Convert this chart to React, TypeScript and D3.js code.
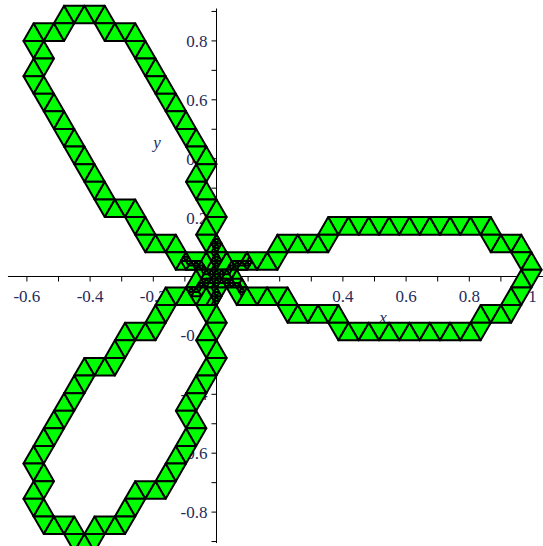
import React, { useMemo } from "react";
import * as d3 from "d3";

// Rose curve r = cos(3θ), written implicitly: (x²+y²)² = x³ − 3xy²
const petals = [3];
const roseLevel = (x: number, y: number) => {
  const r2 = x * x + y * y;
  return r2 * r2 - (x * x * x - 3 * x * y * y);
};

// Triangular mesh used to trace the curve (data units)
const meshTop = [0.9195];
const meshRowHeight = [0.0598];
const meshBase = [0.0643];
const meshRows = [31];
const meshColumns = [-14, 18];
const refineRadius = [0.11];
const refineDepth = [2];

// Axis ticks
const xMajor = [-0.6, -0.4, -0.2, 0.2, 0.4, 0.6, 0.8, 1];
const xMajorLabels = ["-0.6", "-0.4", "-0.2", "0.2", "0.4", "0.6", "0.8", "1"];
const xMinor = [-0.5, -0.3, -0.1, 0.1, 0.3, 0.5, 0.7, 0.9];
const yMajor = [-0.8, -0.6, -0.4, -0.2, 0.2, 0.4, 0.6, 0.8];
const yMajorLabels = ["-0.8", "-0.6", "-0.4", "-0.2", "0.2", "0.4", "0.6", "0.8"];
const yMinor = [-0.9, -0.7, -0.5, -0.3, -0.1, 0.1, 0.3, 0.5, 0.7, 0.9];
const xExtent = [-0.66, 1.035];
const yExtent = [-0.905, 0.91];

type Pt = [number, number];
type Tri = [Pt, Pt, Pt];

function crossesCurve(t: Tri): boolean {
  const m = 8;
  let lo = Infinity;
  let hi = -Infinity;
  for (let i = 0; i <= m; i++) {
    for (let k = 0; k <= m - i; k++) {
      const a = i / m, b = k / m, c = 1 - a - b;
      const x = a * t[0][0] + b * t[1][0] + c * t[2][0];
      const y = a * t[0][1] + b * t[1][1] + c * t[2][1];
      const v = roseLevel(x, y);
      if (v < lo) lo = v;
      if (v > hi) hi = v;
    }
  }
  return lo <= 0 && hi >= 0;
}

function split(t: Tri): Tri[] {
  const mid = (p: Pt, q: Pt): Pt => [(p[0] + q[0]) / 2, (p[1] + q[1]) / 2];
  const ab = mid(t[0], t[1]), bc = mid(t[1], t[2]), ca = mid(t[2], t[0]);
  return [
    [t[0], ab, ca],
    [ab, t[1], bc],
    [ca, bc, t[2]],
    [ab, bc, ca],
  ];
}

function buildCells(): Tri[] {
  const b = meshBase[0];
  const h = meshRowHeight[0];
  const out: Tri[] = [];
  for (let j = 0; j < meshRows[0]; j++) {
    const yt = meshTop[0] - j * h;
    const yb = yt - h;
    const off = j % 2 === 0 ? b / 2 : 0;
    for (let n = meshColumns[0]; n <= meshColumns[1]; n++) {
      const tx = off + n * b;
      const up: Tri = [[tx, yt], [tx - b / 2, yb], [tx + b / 2, yb]];
      const down: Tri = [[tx, yt], [tx + b, yt], [tx + b / 2, yb]];
      for (const t of [up, down]) {
        if (!crossesCurve(t)) continue;
        out.push(t);
        const cx = (t[0][0] + t[1][0] + t[2][0]) / 3;
        const cy = (t[0][1] + t[1][1] + t[2][1]) / 3;
        if (Math.hypot(cx, cy) < refineRadius[0]) {
          let level: Tri[] = [t];
          for (let d = 0; d < refineDepth[0]; d++) {
            const next: Tri[] = [];
            level.forEach((p) => split(p).forEach((s) => { if (crossesCurve(s)) next.push(s); }));
            next.forEach((s) => out.push(s));
            level = next;
          }
        }
      }
    }
  }
  return out;
}

export default function App() {
  const W = 543, H = 546;
  const x = d3.scaleLinear().domain([0, 1]).range([216.5, 532.5]);
  const y = d3.scaleLinear().domain([0, 0.8]).range([276.5, 40.9]);
  const cells = useMemo(buildCells, []);
  const line = d3.line<Pt>().x((p) => x(p[0])).y((p) => y(p[1]));
  const labelColor = "#1f2c5c";
  const textStyle = { fontFamily: '"Liberation Serif", "Times New Roman", serif', fontSize: "17px" };

  return (
    <svg width={W} height={H} style={{ position: "absolute", left: 0, top: 0, background: "#fff" }}>
      <g stroke="#000" strokeWidth={1}>
        <line x1={x(xExtent[0])} x2={x(xExtent[1])} y1={y(0)} y2={y(0)} />
        <line x1={x(0)} x2={x(0)} y1={y(yExtent[1])} y2={y(yExtent[0])} />
        {xMajor.concat(xMinor).map((v) => (
          <line key={"xt" + v} x1={x(v)} x2={x(v)} y1={y(0)} y2={y(0) + 5} />
        ))}
        {yMajor.concat(yMinor).map((v) => (
          <line key={"yt" + v} x1={x(0) - 5} x2={x(0)} y1={y(v)} y2={y(v)} />
        ))}
      </g>
      <g fill={labelColor}>
        {xMajor.map((v, i) => (
          <text key={"xl" + v} style={textStyle} x={x(v)} y={y(0) + 25.5} textAnchor="middle">{xMajorLabels[i]}</text>
        ))}
        {yMajor.map((v, i) => (
          <text key={"yl" + v} style={textStyle} x={x(0) - 9} y={y(v) + 6} textAnchor="end">{yMajorLabels[i]}</text>
        ))}
        <text style={{ ...textStyle, fontStyle: "italic" }} x={383} y={y(0) + 46} textAnchor="middle">x</text>
        <text style={{ ...textStyle, fontStyle: "italic" }} x={157} y={148} textAnchor="middle">y</text>
      </g>
      <g fill="#00ff00" stroke="#000" strokeWidth={2} strokeLinejoin="round" data-petals={petals[0]}>
        {cells.map((t, i) => (
          <path key={i} d={line([t[0], t[1], t[2]])! + "Z"} />
        ))}
      </g>
    </svg>
  );
}
